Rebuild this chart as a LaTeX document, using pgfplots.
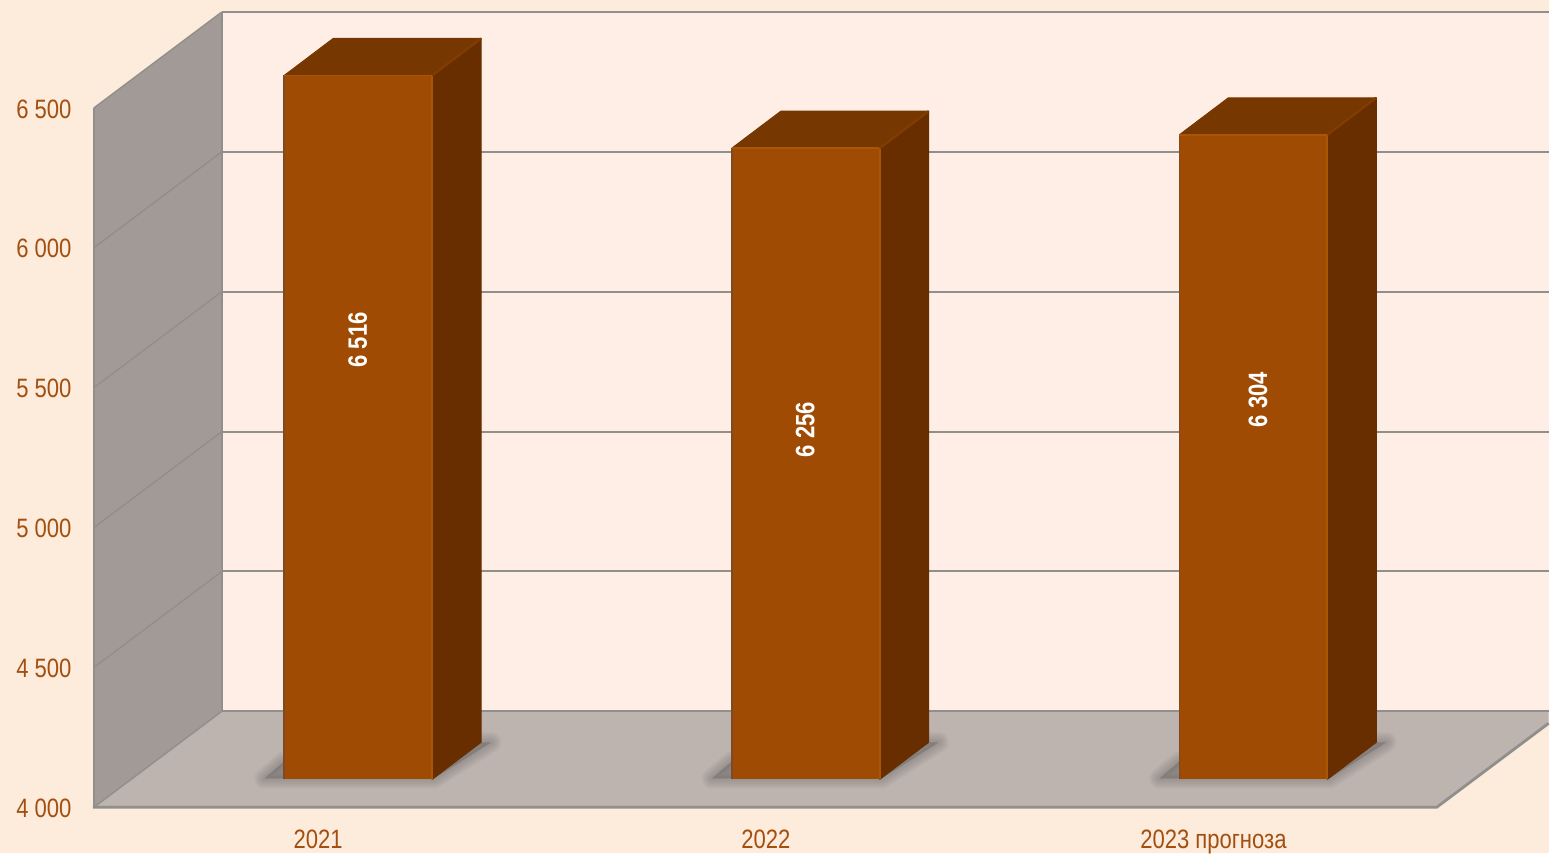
\documentclass[border=0pt]{standalone}
\usepackage{fontspec}
\setmainfont[FakeStretch=0.83]{Liberation Sans}
\usepackage{pgfplots}
\pgfplotsset{compat=1.18}

\definecolor{pagebg}{HTML}{FDEBDC}
\definecolor{wallbg}{HTML}{FEEEE6}
\definecolor{sidewall}{HTML}{A19A96}
\definecolor{floorc}{HTML}{BDB3AF}
\definecolor{gridc}{HTML}{908F8C}
\definecolor{labelc}{HTML}{A34F10}
\definecolor{barfront}{HTML}{A04B03}
\definecolor{baredge}{HTML}{AB5507}
\definecolor{barleft}{HTML}{7D4A26}
\definecolor{bartop}{HTML}{773700}
\definecolor{topedge}{HTML}{803C02}
\definecolor{barside}{HTML}{682E00}

% x is in picture pixels, y in data units; 1 px = 0.5 pt, 1 px = 1/0.28 units
% depth of the whole box: +128 px, +342.86 units; depth of a bar: +49 px, +132.14 units
% bar foot lies 100 units above the front edge of the floor
\newcommand{\cube}[2]{%
  \pgfmathsetmacro{\xa}{#1}
  \pgfmathsetmacro{\xb}{#1+148}
  \pgfmathsetmacro{\xc}{#1+49}
  \pgfmathsetmacro{\xd}{#1+197}
  \pgfmathsetmacro{\xs}{#1-20}
  \pgfmathsetmacro{\xt}{#1+150}
  \pgfmathsetmacro{\xu}{#1+207}
  \pgfmathsetmacro{\xv}{#1+186}
  \pgfmathsetmacro{\ya}{4100}
  \pgfmathsetmacro{\yb}{#2+100}
  \pgfmathsetmacro{\yc}{#2+232.14}
  \pgfmathsetmacro{\yd}{4232.14}
  % soft shadow on the floor
  \foreach \w in {10,8,6,4,2}{
    \edef\tmp{\noexpand\addplot[fill=black!75, draw=black!75, line width=\w pt, opacity=0.055, line join=round]
      coordinates {(\xs,4103) (\xt,4103) (\xu,4232) (\xv,4232) (#1,4164)} -- cycle;}
    \tmp
  }
  \addplot[fill=barside, draw=barside, line width=0.5pt, line join=round]
    coordinates {(\xb,\ya) (\xd,\yd) (\xd,\yc) (\xb,\yb)} -- cycle;
  \addplot[fill=bartop, draw=bartop, line width=0.5pt, line join=round]
    coordinates {(\xa,\yb) (\xc,\yc) (\xd,\yc) (\xb,\yb)} -- cycle;
  \addplot[fill=barfront, draw=none]
    coordinates {(\xa,\ya) (\xb,\ya) (\xb,\yb) (\xa,\yb)} -- cycle;
  \addplot[draw=barleft, line width=0.9pt] coordinates {(\xa,\ya) (\xa,\yb)};
  \addplot[draw=baredge, line width=0.9pt] coordinates {(\xa,\yb) (\xb,\yb) (\xb,\ya)};
  \addplot[draw=topedge, line width=1.2pt] coordinates {(\xb,\yb) (\xd,\yc)};
}

\begin{document}
\begin{tikzpicture}
% page background, set behind the axis so that tick labels stay on top
\fill[pagebg] (-47pt,-23pt) rectangle (728pt,404pt);
\begin{axis}[
    at={(0pt,0pt)}, anchor=south west,
    scale only axis,
    width=728pt, height=404pt,
    xmin=94, xmax=1550,
    ymin=4000, ymax=6885.71,
    clip=false,
    axis line style={draw=none},
    tick style={draw=none},
    major tick length=0pt,
    ytick={4000,4500,5000,5500,6000,6500},
    xtick={318.5,766.5,1214.5},
    xticklabels={2021,2022,2023 прогноза},
    tick label style={font=\fontsize{13.3}{15}\selectfont, text=labelc},
    yticklabel style={anchor=east, inner sep=0pt, xshift=-11pt, yshift=-0.5pt,
      /pgf/number format/.cd, assume math mode=true, 1000 sep={\ }},
    xticklabel style={anchor=base, inner sep=0pt, yshift=-20.5pt},
    no markers,
]
% back wall, side wall, floor
\addplot[fill=wallbg, draw=none] coordinates {(222,4342.86) (1550,4342.86) (1550,6842.86) (222,6842.86)} -- cycle;
\addplot[fill=sidewall, draw=none] coordinates {(94,4000) (222,4342.86) (222,6842.86) (94,6500)} -- cycle;
\addplot[fill=floorc, draw=none] coordinates {(94,4000) (1438,4000) (1550,4300) (1550,4342.86) (222,4342.86)} -- cycle;

% grid on the back wall
\addplot[gridc, line width=1pt] coordinates {(222,6842.86) (1550,6842.86)};
\addplot[gridc, line width=1pt] coordinates {(222,6342.86) (1550,6342.86)};
\addplot[gridc, line width=1pt] coordinates {(222,5842.86) (1550,5842.86)};
\addplot[gridc, line width=1pt] coordinates {(222,5342.86) (1550,5342.86)};
\addplot[gridc, line width=1pt] coordinates {(222,4842.86) (1550,4842.86)};
\addplot[gridc, line width=1pt] coordinates {(222,4342.86) (1550,4342.86)};
% grid on the side wall
\addplot[gridc, line width=0.7pt] coordinates {(94,6500) (222,6842.86)};
\addplot[gridc, line width=0.7pt] coordinates {(94,6000) (222,6342.86)};
\addplot[gridc, line width=0.7pt] coordinates {(94,5500) (222,5842.86)};
\addplot[gridc, line width=0.7pt] coordinates {(94,5000) (222,5342.86)};
\addplot[gridc, line width=0.7pt] coordinates {(94,4500) (222,4842.86)};
\addplot[gridc, line width=0.7pt] coordinates {(94,4000) (222,4342.86)};
\addplot[gridc, line width=1.2pt] coordinates {(94,6500) (94,4000)};
\addplot[gridc, line width=0.7pt] coordinates {(222,4342.86) (222,6842.86)};
% front and right edges of the floor
\addplot[gridc, line width=1.4pt] coordinates {(93,4000) (1438,4000) (1550,4300)};

\cube{284.5}{6516}
\cube{732.5}{6256}
\cube{1180.5}{6304}

\node[rotate=90, text=white, font=\fontsize{13.3}{15}\selectfont\bfseries] at (axis cs:358,5671) {6 516};
\node[rotate=90, text=white, font=\fontsize{13.3}{15}\selectfont\bfseries] at (axis cs:806,5350) {6 256};
\node[rotate=90, text=white, font=\fontsize{13.3}{15}\selectfont\bfseries] at (axis cs:1259,5457) {6 304};
\end{axis}
\end{tikzpicture}
\end{document}
